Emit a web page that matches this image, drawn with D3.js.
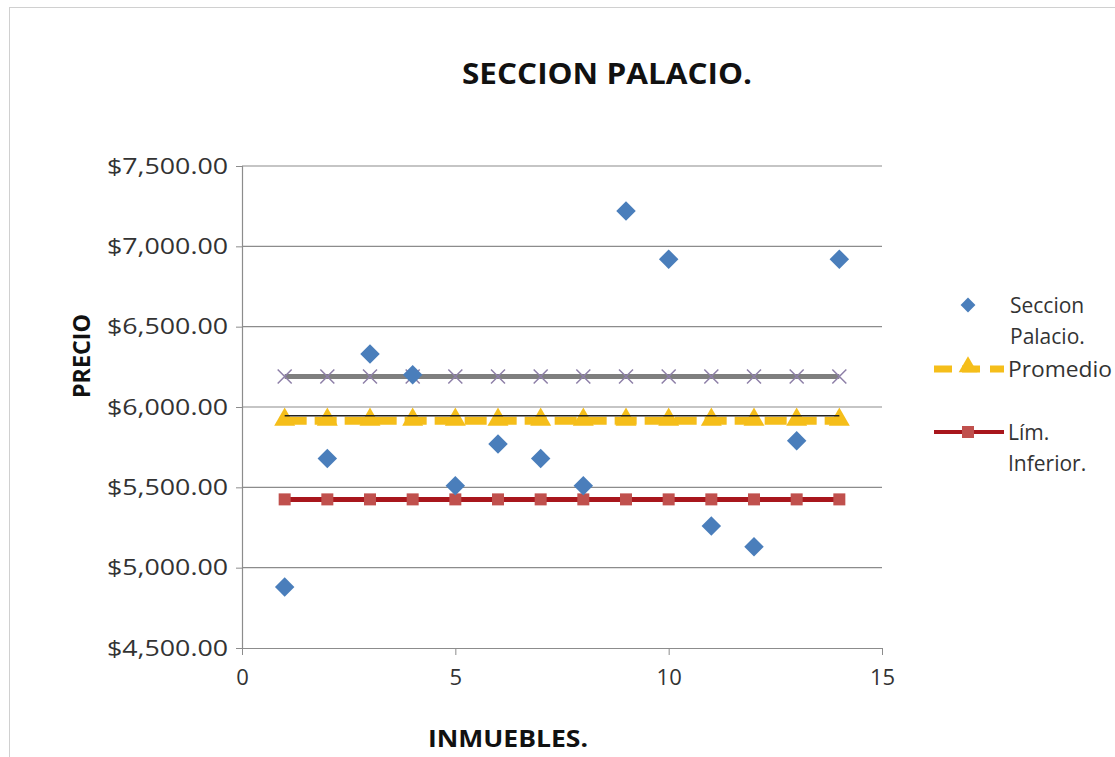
<!DOCTYPE html>
<html>
<head>
<meta charset="utf-8">
<script src="https://cdn.jsdelivr.net/npm/d3@7"></script>
<style>
  body { margin: 0; background: #fff; }
  text { font-family: "Open Sans", "Noto Sans", sans-serif; }
</style>
</head>
<body>
<div id="chart"></div>
<script>
// Seccion Palacio scatter with reference lines
const inmuebles = [1, 2, 3, 4, 5, 6, 7, 8, 9, 10, 11, 12, 13, 14];
const precios = [4880, 5680, 6330, 6200, 5510, 5770, 5680, 5510, 7220, 6920, 5260, 5130, 5790, 6920];
const promedio = [5915, 5915, 5915, 5915, 5915, 5915, 5915, 5915, 5915, 5915, 5915, 5915, 5915, 5915];
const limSuperior = [6190, 6190, 6190, 6190, 6190, 6190, 6190, 6190, 6190, 6190, 6190, 6190, 6190, 6190];
const limInferior = [5425, 5425, 5425, 5425, 5425, 5425, 5425, 5425, 5425, 5425, 5425, 5425, 5425, 5425];
const yTicks = [4500, 5000, 5500, 6000, 6500, 7000, 7500];
const xTicks = [0, 5, 10, 15];

const width = 1115, height = 757;
const plot = { left: 242, right: 882, top: 166, bottom: 648 };

const x = d3.scaleLinear().domain([0, 15]).range([plot.left, plot.right]);
const y = d3.scaleLinear().domain([4500, 7500]).range([plot.bottom, plot.top]);

const svg = d3.select("#chart").append("svg")
    .attr("width", width)
    .attr("height", height);

// chart frame
svg.append("rect")
    .attr("x", 9.5).attr("y", 7.5)
    .attr("width", width + 20).attr("height", height + 20)
    .attr("fill", "none").attr("stroke", "#d0d0d0");

// title
svg.append("text")
    .attr("x", 607).attr("y", 84)
    .attr("text-anchor", "middle")
    .attr("font-size", 29).attr("font-weight", "bold")
    .attr("fill", "#111")
    .attr("textLength", 290).attr("lengthAdjust", "spacingAndGlyphs")
    .text("SECCION PALACIO.");

// gridlines
svg.append("g").selectAll("line")
    .data(yTicks.slice(1))
    .enter().append("line")
    .attr("x1", plot.left).attr("x2", plot.right)
    .attr("y1", d => y(d)).attr("y2", d => y(d))
    .attr("stroke", "#8c8c8c").attr("stroke-width", 1.2);

// y axis
const yAxis = d3.axisLeft(y).tickValues(yTicks).tickSize(6).tickPadding(8)
    .tickFormat(d => "$" + d3.format(",.2f")(d));
const gy = svg.append("g").attr("transform", `translate(${plot.left},0)`).call(yAxis);
gy.select(".domain").attr("stroke", "#8c8c8c").attr("stroke-width", 1.2);
gy.selectAll(".tick line").attr("stroke", "#8c8c8c");
gy.selectAll(".tick text")
    .attr("font-size", 22).attr("fill", "#333")
    .attr("font-family", "Noto Sans, sans-serif")
    .attr("textLength", 121).attr("lengthAdjust", "spacingAndGlyphs");

// x axis
const xAxis = d3.axisBottom(x).tickValues(xTicks).tickSize(7).tickPadding(14).tickSizeOuter(0);
const gx = svg.append("g").attr("transform", `translate(0,${plot.bottom})`).call(xAxis);
gx.select(".domain").attr("stroke", "#8c8c8c").attr("stroke-width", 1.2);
gx.selectAll(".tick line").attr("stroke", "#8c8c8c");
gx.selectAll(".tick text").attr("font-size", 22).attr("fill", "#333")
    .attr("font-family", "Noto Sans, sans-serif");

// axis titles
svg.append("text")
    .attr("transform", "translate(90,356) rotate(-90)")
    .attr("text-anchor", "middle")
    .attr("font-size", 24).attr("font-weight", "bold").attr("fill", "#111")
    .attr("textLength", 84).attr("lengthAdjust", "spacingAndGlyphs")
    .text("PRECIO");
svg.append("text")
    .attr("x", 508).attr("y", 747)
    .attr("text-anchor", "middle")
    .attr("font-size", 24).attr("font-weight", "bold").attr("fill", "#111")
    .attr("textLength", 160).attr("lengthAdjust", "spacingAndGlyphs")
    .text("INMUEBLES.");

const line = vals => d3.line().x((d, i) => x(inmuebles[i])).y(d => y(d))(vals);

// upper limit (gray with x markers)
svg.append("path").attr("d", line(limSuperior))
    .attr("fill", "none").attr("stroke", "#7f7f7f").attr("stroke-width", 5);
svg.append("g").selectAll("path")
    .data(limSuperior).enter().append("path")
    .attr("transform", (d, i) => `translate(${x(inmuebles[i])},${y(d)})`)
    .attr("d", "M-7,-7L7,7M-7,7L7,-7")
    .attr("stroke", "#8e80a8").attr("stroke-width", 1.5).attr("fill", "none");

// promedio (yellow dashed with triangles)
svg.append("path").attr("d", line(promedio))
    .attr("fill", "none").attr("stroke", "#f5be1a").attr("stroke-width", 8)
    .attr("stroke-dasharray", "22,8");
const tri = d3.symbol().type(d3.symbolTriangle).size(190);
svg.append("g").selectAll("path")
    .data(promedio).enter().append("path")
    .attr("transform", (d, i) => `translate(${x(inmuebles[i])},${y(d) - 1})`)
    .attr("d", tri)
    .attr("fill", "#f5be1a");
svg.append("path").attr("d", line(promedio))
    .attr("fill", "none").attr("stroke", "#222").attr("stroke-width", 1.5)
    .attr("transform", "translate(0,-5)");

// lower limit (red with squares)
svg.append("path").attr("d", line(limInferior))
    .attr("fill", "none").attr("stroke", "#a8161c").attr("stroke-width", 5);
svg.append("g").selectAll("rect")
    .data(limInferior).enter().append("rect")
    .attr("x", (d, i) => x(inmuebles[i]) - 6)
    .attr("y", d => y(d) - 6)
    .attr("width", 12).attr("height", 12)
    .attr("fill", "#c0504d");

// data points (blue diamonds, square rotated 45deg)
const diamond = d3.symbol().type(d3.symbolSquare).size(190);
svg.append("g").selectAll("path")
    .data(precios).enter().append("path")
    .attr("transform", (d, i) => `translate(${x(inmuebles[i])},${y(d)}) rotate(45)`)
    .attr("d", diamond)
    .attr("fill", "#4a7ebb");

// legend
const lg = svg.append("g").attr("font-size", 21).attr("fill", "#333")
    .attr("font-family", "Noto Sans, sans-serif");
lg.append("path")
    .attr("transform", "translate(968,305) rotate(45)")
    .attr("d", d3.symbol().type(d3.symbolSquare).size(110))
    .attr("fill", "#4a7ebb");
lg.append("text").attr("x", 1010).attr("y", 313).text("Seccion");
lg.append("text").attr("x", 1010).attr("y", 344).text("Palacio.");

lg.append("line")
    .attr("x1", 934).attr("x2", 1004).attr("y1", 369).attr("y2", 369)
    .attr("stroke", "#f5be1a").attr("stroke-width", 7)
    .attr("stroke-dasharray", "18,10");
lg.append("path")
    .attr("transform", "translate(968,367)")
    .attr("d", d3.symbol().type(d3.symbolTriangle).size(150))
    .attr("fill", "#f5be1a");
lg.append("text").attr("x", 1008).attr("y", 377).attr("textLength", 104)
    .attr("lengthAdjust", "spacingAndGlyphs").text("Promedio");

lg.append("line")
    .attr("x1", 934).attr("x2", 1004).attr("y1", 432).attr("y2", 432)
    .attr("stroke", "#a8161c").attr("stroke-width", 4);
lg.append("rect")
    .attr("x", 962).attr("y", 426).attr("width", 12).attr("height", 12)
    .attr("fill", "#c0504d");
lg.append("text").attr("x", 1008).attr("y", 440).text("Lím.");
lg.append("text").attr("x", 1008).attr("y", 471).text("Inferior.");
</script>
</body>
</html>
